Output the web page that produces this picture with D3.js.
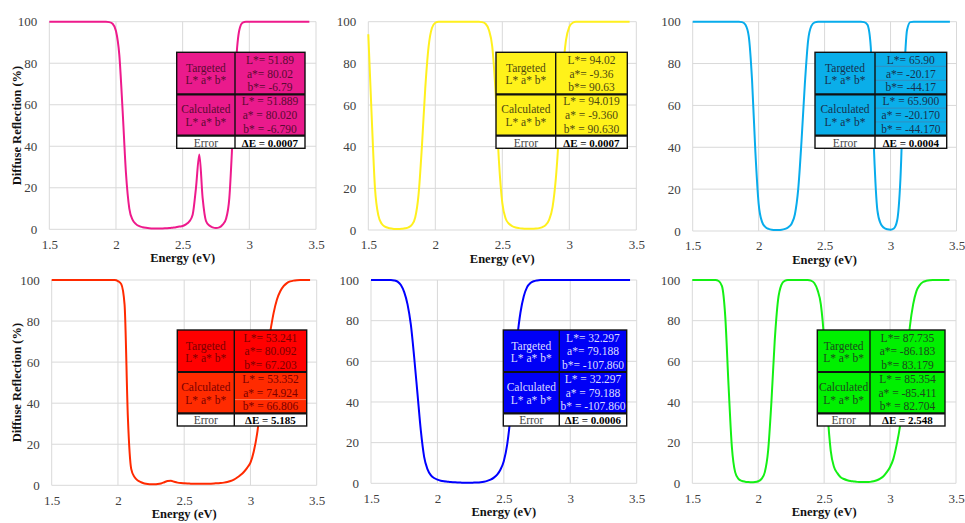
<!DOCTYPE html>
<html><head><meta charset="utf-8">
<script src="https://cdn.jsdelivr.net/npm/d3@7"></script>
<style>body{margin:0;background:#fff}svg{display:block}</style>
</head><body><svg id="c" width="965" height="523"></svg>
<script>
// ---------- data ----------
const energy = [1.5,1.525,1.55,1.575,1.6,1.625,1.65,1.675,1.7,1.725,1.75,1.775,1.8,1.825,1.85,1.875,1.9,1.925,1.95,1.975,
 2.0,2.025,2.05,2.075,2.1,2.125,2.15,2.175,2.2,2.225,2.25,2.275,2.3,2.325,2.35,2.375,2.4,2.425,2.45,2.475,
 2.5,2.525,2.55,2.575,2.6,2.625,2.65,2.675,2.7,2.725,2.75,2.775,2.8,2.825,2.85,2.875,2.9,2.925,2.95,2.975,
 3.0,3.025,3.05,3.075,3.1,3.125,3.15,3.175,3.2,3.225,3.25,3.275,3.3,3.325,3.35,3.375,3.4,3.425,3.45];

const magentaReflection = [100,100,100,100,100,100,100,100,100,100,100,100,100,100,100,100,100,100,99.8,99,
 95.5,84,57,27,10,4.5,2.5,1.5,1.0,0.7,0.5,0.4,0.4,0.4,0.4,0.5,0.6,0.8,1.0,1.3,
 1.6,2.4,3.8,7,20,36,15,4,1.8,0.9,0.6,0.9,2.2,5,15,45,80,96,99.6,100,
 100,100,100,100,100,100,100,100,100,100,100,100,100,100,100,100,100,100,100];

const yellowReflection = [94,55,20,7,3,1.6,1.0,0.7,0.5,0.5,0.6,0.8,1.3,2.5,6,17,40,68,88,97,
 99.5,100,100,100,100,100,100,100,100,100,100,100,100,100,99.8,99,96,88,66,33,
 13,5.5,3,1.8,1.2,0.9,0.7,0.6,0.6,0.6,0.7,0.9,1.4,2.5,5,11,25,48,74,91,
 97.5,99.5,100,100,100,100,100,100,100,100,100,100,100,100,100,100,100,100,100];

const cyanReflection = [100,100,100,100,100,100,100,100,100,100,100,100,100,100,100,99.8,98.5,93,72,38,
 13,4.5,2,1.0,0.6,0.5,0.5,0.6,1.0,1.8,3.5,8,20,43,70,91,98,99.7,100,100,
 100,100,100,100,100,100,100,100,100,100,100,100,99.8,98.5,88,38,10,3.5,1.5,0.8,
 0.6,1.2,5,25,70,96,99.8,100,100,100,100,100,100,100,100,100,100,100,100];

const redReflection = [100,100,100,100,100,100,100,100,100,100,100,100,100,100,100,100,100,100,100,100,
 99.5,98,88,33,8,4,2.3,1.5,0.9,0.6,0.5,0.5,0.6,0.9,1.5,2.1,2.2,1.7,1.3,1.1,
 1.0,0.9,0.8,0.7,0.7,0.7,0.7,0.7,0.8,0.9,1.0,1.1,1.3,1.6,2.1,2.8,3.8,5,6.5,8.5,
 11,16.5,25,38,52,65,75,84,90.5,94.5,97,98.5,99.3,99.7,99.9,100,100,100,100];

const blueReflection = [100,100,100,100,100,100,100,99.8,99.2,97.5,94,88,78,62,44,26,13,7,4,2.6,
 1.8,1.3,1.0,0.8,0.6,0.5,0.4,0.35,0.3,0.3,0.3,0.35,0.4,0.55,0.8,1.2,1.8,2.8,4.3,6.8,
 11,19,33,53,71,84,92,96.5,98.5,99.4,99.8,100,100,100,100,100,100,100,100,100,
 100,100,100,100,100,100,100,100,100,100,100,100,100,100,100,100,100,100,100];

const greenReflection = [100,100,100,100,100,100,100,100,99.5,97,82,48,18,5.5,2.2,1.2,0.8,0.6,0.5,0.6,
 1.0,2.2,5.5,16,40,70,90,97.5,99.6,100,100,100,100,100,100,100,99.7,98.5,95,88,
 70,36,16,8,5,3,2.1,1.5,1.1,0.9,0.7,0.6,0.6,0.6,0.7,1.0,1.5,2.3,3.5,5.5,
 8,12,19,28,42,60,77,88,94.5,97.5,99,99.6,99.9,100,100,100,100,100,100];

const xTicks = [1.5, 2, 2.5, 3, 3.5];
const yTicks = [0, 20, 40, 60, 80, 100];

const targetedLab = [
 ["L*= 51.89","a*= 80.02","b*= -6.79"],
 ["L*= 94.02","a*= -9.36","b*= 90.63"],
 ["L*= 65.90","a*= -20.17","b*= -44.17"],
 ["L*= 53.241","a*= 80.092","b*= 67.203"],
 ["L*= 32.297","a*= 79.188","b*= -107.860"],
 ["L*= 87.735","a*= -86.183","b*= 83.179"]];
const calculatedLab = [
 ["L* = 51.889","a* = 80.020","b* = -6.790"],
 ["L* = 94.019","a* = -9.360","b* = 90.630"],
 ["L* = 65.900","a* = -20.170","b* = -44.170"],
 ["L* = 53.352","a* = 74.924","b* = 66.806"],
 ["L* = 32.297","a* = 79.188","b* = -107.860"],
 ["L* = 85.354","a* = -85.411","b* = 82.704"]];
const deltaE = ["0.0007","0.0007","0.0004","5.185","0.0006","2.548"];

const seriesList = [magentaReflection, yellowReflection, cyanReflection, redReflection, blueReflection, greenReflection];

// ---------- styling / layout ----------
const styles = [
 {line:"#ee1a8c", fillT:"#ea1a8c", fillC:"#ea1a8c", text:"#5a0a32", sep:null},
 {line:"#fff01e", fillT:"#fff21a", fillC:"#fff21a", text:"#4f4a10", sep:null},
 {line:"#08acec", fillT:"#0aaee9", fillC:"#0aaee9", text:"#17314f", sep:"#3f86b4"},
 {line:"#ff2a00", fillT:"#ff0000", fillC:"#ff2b00", text:"#7a0000", sep:null},
 {line:"#0000ff", fillT:"#0000f6", fillC:"#0000f6", text:"#dcdcff", sep:null},
 {line:"#14f014", fillT:"#00f000", fillC:"#00f000", text:"#1c4a1c", sep:null}
];
const layout = [
 {x0:49.3, x1:316.0, yT:21.7, yB:229.3, tx:176.7, tc:235.0, tr:305.0, ty:52.3},
 {x0:368.3,x1:636.3, yT:21.7, yB:230.0, tx:496.0, tc:555.7, tr:627.3, ty:52.3},
 {x0:692.7,x1:956.5, yT:21.7, yB:231.0, tx:815.0, tc:875.0, tr:946.7, ty:52.3},
 {x0:51.7, x1:316.7, yT:280.0,yB:485.3, tx:177.3, tc:234.3, tr:306.7, ty:330.0},
 {x0:371.0,x1:636.7, yT:280.0,yB:483.3, tx:503.3, tc:559.3, tr:626.7, ty:330.0},
 {x0:692.3,x1:956.0, yT:280.0,yB:483.3, tx:817.3, tc:870.0, tr:945.0, ty:330.0}
];

const svg = d3.select("#c");
const serif = "'Liberation Serif','Times New Roman',serif";
const gridColor = "#d9d9d9";

layout.forEach((L, i) => {
  const g = svg.append("g");
  const x = d3.scaleLinear().domain([1.5, 3.5]).range([L.x0, L.x1]);
  const y = d3.scaleLinear().domain([0, 100]).range([L.yB, L.yT]);

  // gridlines
  g.append("g").selectAll("line").data(yTicks).join("line")
    .attr("x1", L.x0).attr("x2", L.x1).attr("y1", d => y(d)).attr("y2", d => y(d))
    .attr("stroke", gridColor).attr("stroke-width", 1);
  g.append("g").selectAll("line").data(xTicks).join("line")
    .attr("x1", d => x(d)).attr("x2", d => x(d)).attr("y1", L.yT).attr("y2", L.yB)
    .attr("stroke", gridColor).attr("stroke-width", 1);

  // axes labels via d3 axes (no domain / ticks lines)
  const xa = g.append("g").attr("transform", `translate(0,${L.yB})`)
    .call(d3.axisBottom(x).tickValues(xTicks).tickSize(0).tickPadding(10).tickFormat(d3.format("")));
  const ya = g.append("g").attr("transform", `translate(${L.x0},0)`)
    .call(d3.axisLeft(y).tickValues(yTicks).tickSize(0).tickPadding(12));
  [xa, ya].forEach(a => {
    a.select(".domain").remove();
    a.selectAll("text").attr("font-family", serif).attr("font-size", 13).attr("fill", "#404040");
  });

  // curve
  const pts = energy.map((e, k) => ({e, v: seriesList[i][k]}));
  g.append("path").datum(pts)
    .attr("fill", "none").attr("stroke", styles[i].line).attr("stroke-width", 2)
    .attr("stroke-linejoin", "round")
    .attr("d", d3.line().x(d => x(d.e)).y(d => y(d.v)).curve(d3.curveMonotoneX));

  // x title
  g.append("text").attr("x", (L.x0 + L.x1) / 2).attr("y", L.yB + 33)
    .attr("text-anchor", "middle").attr("font-family", serif).attr("font-weight", "bold")
    .attr("font-size", 12.5).attr("fill", "#111").text("Energy (eV)");
  if (i === 0 || i === 3) {
    const cy = (L.yT + L.yB) / 2;
    g.append("text").attr("transform", `translate(21,${cy}) rotate(-90)`)
      .attr("text-anchor", "middle").attr("font-family", serif).attr("font-weight", "bold")
      .attr("font-size", 12.5).attr("fill", "#111").text("Diffuse Reflection (%)");
  }

  // table
  const S = styles[i];
  const t = g.append("g");
  const r1 = L.ty + 42, r2 = L.ty + 83.4, r3 = L.ty + 96;
  t.append("rect").attr("x", L.tx).attr("y", L.ty).attr("width", L.tr - L.tx).attr("height", r1 - L.ty).attr("fill", S.fillT);
  t.append("rect").attr("x", L.tx).attr("y", r1).attr("width", L.tr - L.tx).attr("height", r2 - r1).attr("fill", S.fillC);
  t.append("rect").attr("x", L.tx).attr("y", r2).attr("width", L.tr - L.tx).attr("height", r3 - r2).attr("fill", "#ffffff");
  if (S.sep) {
    [L.ty + 14, L.ty + 28, r1 + 13.8, r1 + 27.6].forEach(yy =>
      t.append("line").attr("x1", L.tc).attr("x2", L.tr).attr("y1", yy).attr("y2", yy)
        .attr("stroke", S.sep).attr("stroke-width", 0.8));
  }
  if (i === 3) {
    t.append("line").attr("x1", L.tc).attr("x2", L.tr).attr("y1", r1 + 27.6).attr("y2", r1 + 27.6)
      .attr("stroke", "#ff8a6a").attr("stroke-width", 0.8);
  }
  // borders
  t.append("rect").attr("x", L.tx).attr("y", L.ty).attr("width", L.tr - L.tx).attr("height", r3 - L.ty)
    .attr("fill", "none").attr("stroke", "#111").attr("stroke-width", 1.4);
  [r1, r2].forEach(yy => t.append("line").attr("x1", L.tx).attr("x2", L.tr).attr("y1", yy).attr("y2", yy)
    .attr("stroke", "#111").attr("stroke-width", 2.2));
  t.append("line").attr("x1", L.tc).attr("x2", L.tc).attr("y1", L.ty).attr("y2", r3)
    .attr("stroke", "#111").attr("stroke-width", 1.4);

  const lc = (L.tx + L.tc) / 2, rc = (L.tc + L.tr) / 2;
  const txt = (xx, yy, s, opts = {}) => t.append("text").attr("x", xx).attr("y", yy)
    .attr("text-anchor", "middle").attr("dominant-baseline", "central")
    .attr("font-family", serif).attr("font-size", opts.size || 11.5)
    .attr("font-weight", opts.bold ? "bold" : "normal")
    .attr("fill", opts.color || S.text).text(s);
  txt(lc, L.ty + 16, "Targeted");
  txt(lc, L.ty + 28, "L* a* b*");
  txt(lc, r1 + 14.5, "Calculated");
  txt(lc, r1 + 27.5, "L* a* b*");
  targetedLab[i].forEach((s, k) => txt(rc, L.ty + 7.5 + k * 13.8, s));
  calculatedLab[i].forEach((s, k) => txt(rc, r1 + 7 + k * 13.6, s));
  txt(lc, (r2 + r3) / 2 + 0.5, "Error", {color: "#444"});
  txt(rc, (r2 + r3) / 2 + 0.5, "\u0394E = " + deltaE[i], {color: "#000", bold: true, size: 11});
});
</script></body></html>
